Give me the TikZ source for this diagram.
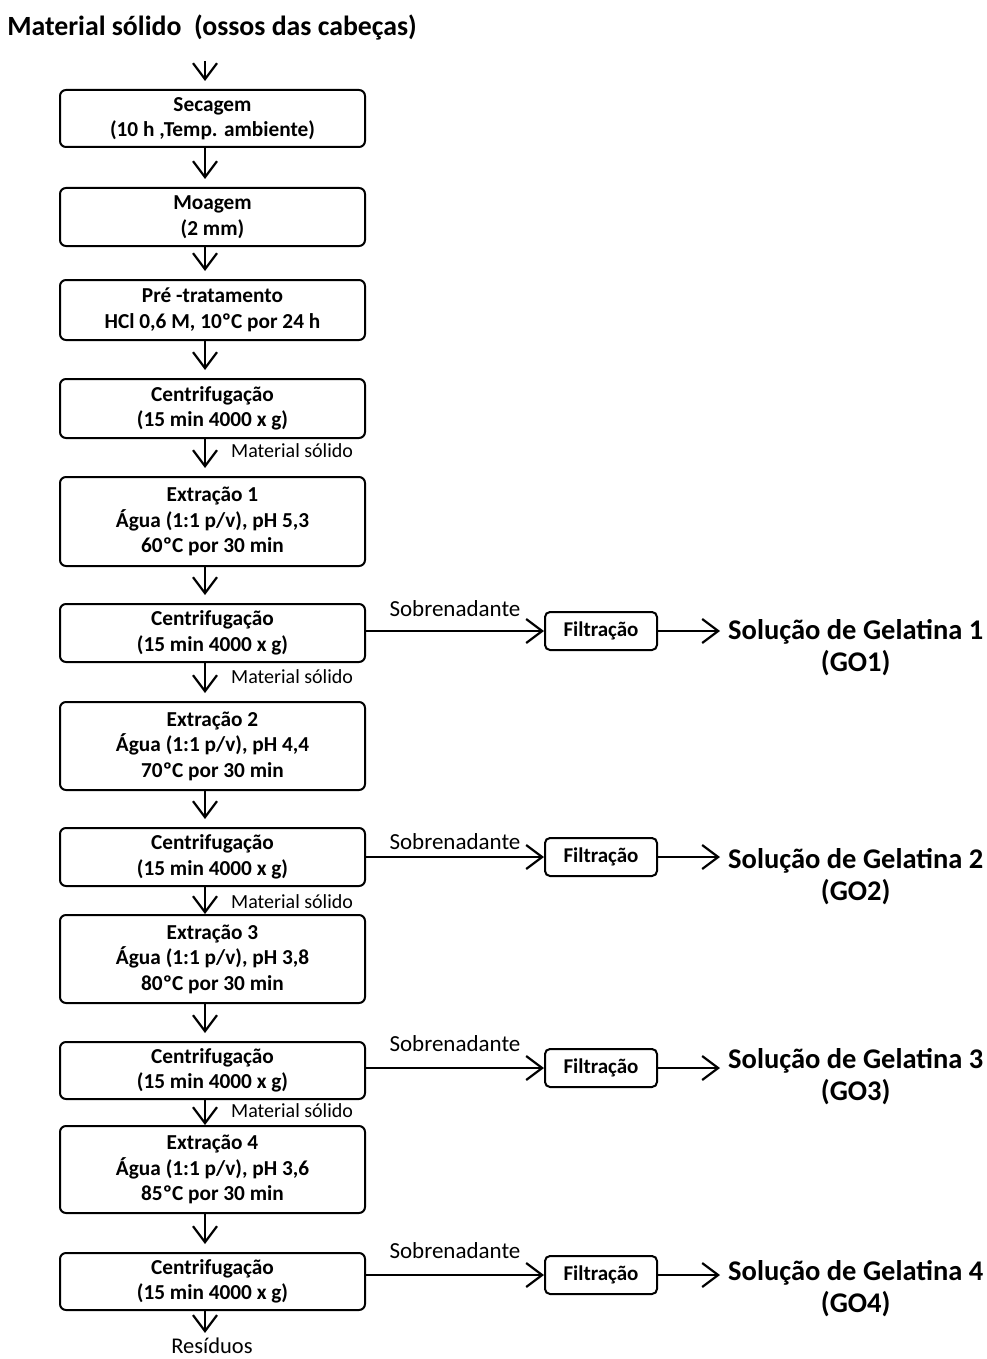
\documentclass[tikz,border=0pt]{standalone}
\usepackage{fontspec}
\setmainfont{Carlito}
\usetikzlibrary{arrows.meta,calc}
\begin{document}
\begin{tikzpicture}[x=1pt,y=-1pt,
  proc/.style={draw, line width=2pt, rounded corners=6pt, minimum width=305pt, inner sep=0pt, align=center, font=\bfseries\fontsize{21.3}{25.5}\selectfont},
  filt/.style={draw, line width=2pt, rounded corners=5pt, minimum width=112pt, minimum height=38pt, inner sep=0pt, font=\bfseries\fontsize{21}{22}\selectfont},
  flow/.style={line width=2.2pt, -{Straight Barb[length=16pt,width=24pt]}},
  gap/.style={shorten >=8pt},
  solid lbl/.style={font=\fontsize{20}{22}\selectfont, inner sep=0pt, anchor=west},
  sobre/.style={font=\fontsize{23}{24}\selectfont, inner sep=0pt},
  sol/.style={font=\bfseries\fontsize{28.5}{32}\selectfont, align=center, inner sep=0pt, anchor=west},
  ttl/.style={font=\bfseries\fontsize{27.8}{30}\selectfont, inner sep=0pt},
  res/.style={font=\fontsize{22.5}{24}\selectfont, inner sep=0pt}
]
\useasboundingbox (0,0) rectangle (986,1359);
\coordinate (ax) at (205,0);

\node[ttl] (t) at (212,28) {Material sólido \ (ossos das cabeças)};

\node[proc, minimum height=57pt] (b1) at (212.5,118.5) {Secagem\\(10 h ,Temp. ambiente)};
\node[proc, minimum height=58pt] (b2) at (212.5,217) {Moagem\\(2 mm)};
\node[proc, minimum height=60pt] (b3) at (212.5,310) {Pré -tratamento\\HCl 0,6 M, 10ºC por 24 h};
\node[proc, minimum height=59pt] (b4) at (212.5,408.5) {Centrifugação\\(15 min 4000 x g)};
\node[proc, minimum height=89pt] (b5) at (212.5,521.5) {Extração 1\\Água (1:1 p/v), pH 5,3\\60ºC por 30 min};
\node[proc, minimum height=58pt] (b6) at (212.5,633) {Centrifugação\\(15 min 4000 x g)};
\node[proc, minimum height=88pt] (b7) at (212.5,746) {Extração 2\\Água (1:1 p/v), pH 4,4\\70ºC por 30 min};
\node[proc, minimum height=58pt] (b8) at (212.5,857) {Centrifugação\\(15 min 4000 x g)};
\node[proc, minimum height=88pt] (b9) at (212.5,959) {Extração 3\\Água (1:1 p/v), pH 3,8\\80ºC por 30 min};
\node[proc, minimum height=57pt] (b10) at (212.5,1070.5) {Centrifugação\\(15 min 4000 x g)};
\node[proc, minimum height=87pt] (b11) at (212.5,1169.5) {Extração 4\\Água (1:1 p/v), pH 3,6\\85ºC por 30 min};
\node[proc, minimum height=57pt] (b12) at (212.5,1281.5) {Centrifugação\\(15 min 4000 x g)};

\node[res] (r) at (212,1346) {Resíduos};

% vertical flow
\draw[flow] ($(t.south -| ax)+(0,20)$) -- ($(b1.north -| ax)+(0,-8)$);
\draw[flow, gap] (b1.south -| ax) -- (b2.north -| ax);
\draw[flow, gap] (b2.south -| ax) -- (b3.north -| ax);
\draw[flow, gap] (b3.south -| ax) -- (b4.north -| ax);
\draw[flow, gap] (b4.south -| ax) -- (b5.north -| ax);
\draw[flow, gap] (b5.south -| ax) -- (b6.north -| ax);
\draw[flow, gap] (b6.south -| ax) -- (b7.north -| ax);
\draw[flow, gap] (b7.south -| ax) -- (b8.north -| ax);
\draw[flow] (b8.south -| ax) -- (b9.north -| ax);
\draw[flow, gap] (b9.south -| ax) -- (b10.north -| ax);
\draw[flow] (b10.south -| ax) -- (b11.north -| ax);
\draw[flow, gap] (b11.south -| ax) -- (b12.north -| ax);
\draw[flow, shorten >=5pt] (b12.south -| ax) -- (r.north -| ax);

% material solido labels
\node[solid lbl] at ($(b4.south -| ax)+(26,12)$) {Material sólido};
\node[solid lbl] at ($(b6.south -| ax)+(26,14)$) {Material sólido};
\node[solid lbl] at ($(b8.south -| ax)+(26,15)$) {Material sólido};
\node[solid lbl] at ($(b10.south -| ax)+(26,11)$) {Material sólido};

% filtration branches
\node[filt] (f1) at (601,631) {Filtração};
\node[filt] (f2) at (601,857) {Filtração};
\node[filt] (f3) at (601,1068) {Filtração};
\node[filt] (f4) at (601,1275) {Filtração};

\node[sol] (s1) at (728,648) {Solução de Gelatina 1\\(GO1)};
\node[sol] (s2) at (728,877) {Solução de Gelatina 2\\(GO2)};
\node[sol] (s3) at (728,1077) {Solução de Gelatina 3\\(GO3)};
\node[sol] (s4) at (728,1289) {Solução de Gelatina 4\\(GO4)};

\foreach \i/\b/\o in {1/b6/13,2/b8/6,3/b10/15,4/b12/15}{
  \draw[flow] (\b.east |- f\i.west) -- node[sobre, midway, above=\o pt] {Sobrenadante} (f\i.west);
  \draw[flow, gap] (f\i.east) -- (s\i.west |- f\i.east);
}
\end{tikzpicture}
\end{document}
